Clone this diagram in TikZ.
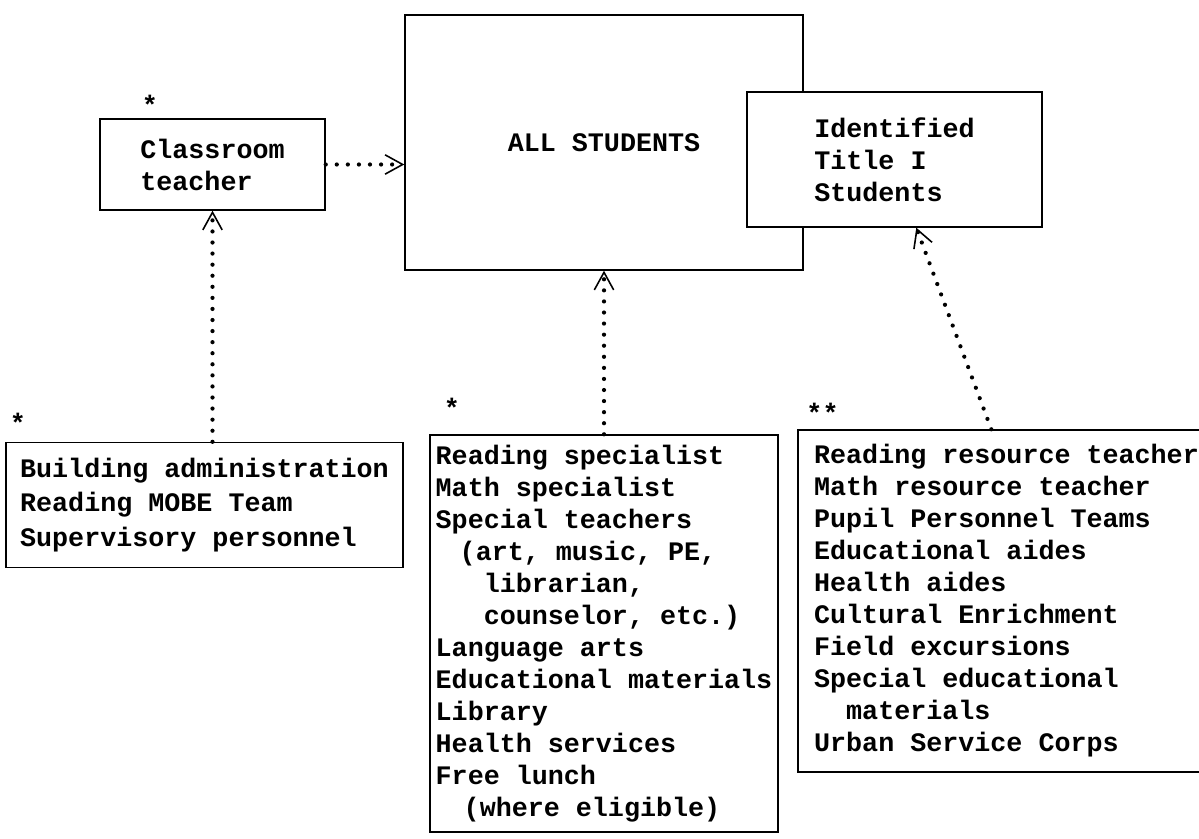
\documentclass[tikz,border=0pt]{standalone}
\usepackage{fontspec}
\setmonofont{Liberation Mono}
\usetikzlibrary{arrows.meta}

\begin{document}
\begin{tikzpicture}[
    box/.style={draw, line width=0.8pt, inner sep=0pt, align=left, font=\ttfamily\bfseries\fontsize{15.2}{18.2}\selectfont},
    tag/.style={inner sep=0pt, font=\ttfamily\bfseries\fontsize{15.2}{18.2}\selectfont},
    arr/.style={line width=2.4pt, line cap=round, dash pattern=on 0pt off 6.3pt, -{Straight Barb[length=10pt, width=11pt, line width=0.9pt]}}
]
\clip (0,0) rectangle (23.98,-16.78);
\fill[white] (0,0) rectangle (23.98,-16.78);

\node[box, minimum width=7.96cm, minimum height=5.1cm] (all) at (12.08,-2.85) {ALL STUDENTS};
\node[box, fill=white, minimum width=5.9cm, minimum height=2.7cm] (ident) at (17.89,-3.19) {Identified\\Title I\\Students};
\node[box, minimum width=4.5cm, minimum height=1.82cm] (teacher) at (4.25,-3.29) {Classroom\\teacher};
\node[tag] at (3.0,-2.1) {*};

\node[box, minimum width=7.94cm, minimum height=2.5cm] (bldg) at (4.09,-10.1) {Building administration\\[1.4pt]Reading MOBE Team\\[1.4pt]Supervisory personnel};
\node[tag] at (0.36,-8.45) {*};

\node[box, minimum width=6.96cm, minimum height=7.94cm] (spec) at (12.08,-12.67) {Reading specialist\\Math specialist\\Special teachers\\\hspace*{0.9em}(art, music, PE,\\\hspace*{1.8em}librarian,\\\hspace*{1.8em}counselor, etc.)\\Language arts\\Educational materials\\Library\\Health services\\Free lunch\\\hspace*{1.05em}(where eligible)};
\node[tag] at (9.04,-8.15) {*};

\node[box, minimum width=8.34cm, minimum height=6.84cm] (res) at (20.13,-12.02) {Reading resource teacher\\Math resource teacher\\Pupil Personnel Teams\\Educational aides\\Health aides\\Cultural Enrichment\\Field excursions\\Special educational\\\hspace*{1.2em}materials\\Urban Service Corps};
\node[tag] at (16.45,-8.25) {**};

\draw[arr] (teacher.east) -- (all.west |- teacher.east);
\draw[arr] (teacher.south |- bldg.north) -- (teacher.south);
\draw[arr] (spec.north) -- (all.south);
\draw[arr] ([xshift=3.88cm]res.north west) -- ([xshift=3.4cm]ident.south west);
\end{tikzpicture}
\end{document}
